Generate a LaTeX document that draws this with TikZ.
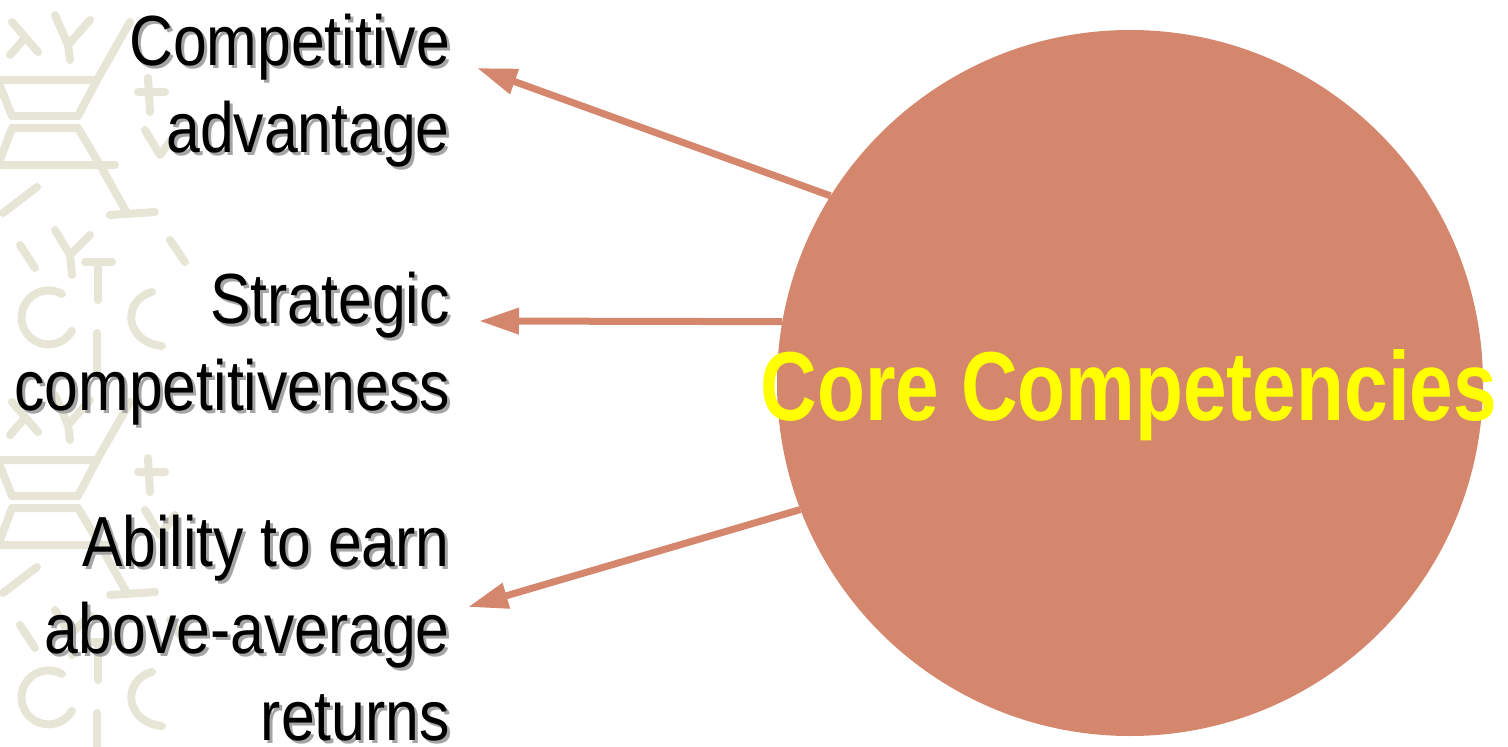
\documentclass[tikz,border=0pt]{standalone}
\usepackage{fontspec}
\setmainfont{Liberation Sans}
\usetikzlibrary{arrows.meta}
\definecolor{salmon}{RGB}{212,135,109}
\definecolor{texture}{RGB}{231,229,214}
\definecolor{shade}{RGB}{165,165,165}
\definecolor{coreyellow}{RGB}{255,255,0}

% right-aligned, horizontally condensed label text
\newcommand\lbl[1]{\fontsize{71}{87}\selectfont\scalebox{0.855}[1]{\begin{tabular}[t]{@{}r@{}}#1\end{tabular}}}

\begin{document}
\begin{tikzpicture}[x=1pt,y=-1pt,
  lbltext/.style={anchor=base east, inner sep=0pt, text=black},
  lblecho/.style={anchor=base east, inner sep=0pt, text=shade},
  link/.style={draw=salmon, line width=7pt, -{Triangle[length=40pt,width=25pt]}},
  motif/.style={draw=texture, line width=8pt, line cap=round, line join=round}]

\useasboundingbox (0,0) rectangle (1508,747);

% decorative motif strip on the left
\foreach \oy in {0,380}{
  \begin{scope}[shift={(0,\oy)}]
    \draw[motif] (0,84) -- (0,80) -- (97,80) -- (78,116) -- (12,116) -- (0,86);
    \draw[motif] (0,160) -- (12,128) -- (78,128) -- (100,165);
    \draw[motif] (0,165) -- (115,165);
    \draw[motif] (97,80) -- (130,22);
    \draw[motif] (100,165) -- (127,213);
    \draw[motif] (110,215) -- (155,212);
    \draw[motif] (3,213) -- (37,187);
    \draw[motif] (12,22) -- (38,52) (25,38) -- (10,55);
    \draw[motif] (55,15) -- (68,45) -- (90,20) (68,45) -- (70,60);
    \draw[motif] (148,78) -- (150,112) (138,92) -- (165,92);
    \draw[motif] (145,130) -- (160,155) -- (175,135);
    \draw[motif] (55,230) -- (70,255) -- (90,235) (70,255) -- (72,275);
    \draw[motif] (62,294) arc[start angle=-60, end angle=-330, radius=27];
    \draw[motif] (152,292) .. controls (122,300) and (124,342) .. (162,346);
    \draw[motif] (85,262) -- (112,262) (98,262) -- (98,300);
    \draw[motif] (97,333) -- (97,375);
    \draw[motif] (170,240) -- (185,262);
    \draw[motif] (20,245) -- (35,268);
  \end{scope}
}

% central circle and its title
\node[circle, fill=salmon, minimum size=706pt, inner sep=0pt] (circ) at (1130,383) {};
\node[anchor=base, inner sep=0pt, text=coreyellow] (core) at (1129,420)
  {\fontsize{98}{110}\selectfont\bfseries\scalebox{0.8}[1]{Core Competencies}};

% outcome labels with drop shadows
\node[lblecho] (advE) at (453,68) {\lbl{Competitive\\advantage}};
\node[lbltext] (adv) at (450,65) {\lbl{Competitive\\advantage}};
\node[lblecho] (strE) at (453,326) {\lbl{Strategic\\competitiveness}};
\node[lbltext] (str) at (450,323) {\lbl{Strategic\\competitiveness}};
\node[lblecho] (retE) at (453,569) {\lbl{Ability to earn\\above-average\\returns}};
\node[lbltext] (ret) at (450,566) {\lbl{Ability to earn\\above-average\\returns}};

% arrow tips
\coordinate (t1) at (477,68);
\coordinate (t2) at (479,321);
\coordinate (t3) at (468,607);

\draw[link] (circ.148) -- (t1);
\draw[link] (circ.170) -- (t2);
\draw[link] (circ.201) -- (t3);
\end{tikzpicture}
\end{document}
